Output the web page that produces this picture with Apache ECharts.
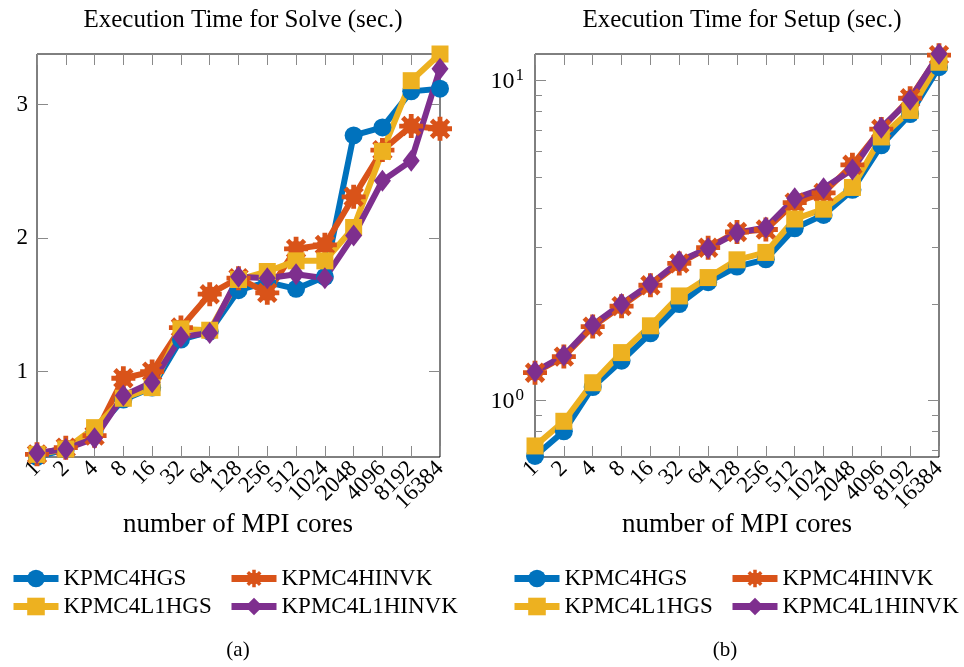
<!DOCTYPE html>
<html>
<head>
<meta charset="utf-8">
<script src="https://cdn.jsdelivr.net/npm/echarts@6/dist/echarts.min.js"></script>
<style>
html, body { margin: 0; padding: 0; background: #fff; }
#main { width: 964px; height: 667px; }
</style>
</head>
<body>
<div id="main"></div>
<script>
// x categories (number of MPI cores)
var cores = ['1', '2', '4', '8', '16', '32', '64', '128', '256', '512', '1024', '2048', '4096', '8192', '16384'];

// (a) solve time, sec.
var solveHGS     = [0.36, 0.42, 0.55, 0.79, 0.88, 1.24, 1.30, 1.61, 1.67, 1.62, 1.71, 2.77, 2.83, 3.10, 3.12];
var solveHINVK   = [0.38, 0.43, 0.52, 0.95, 1.00, 1.33, 1.58, 1.70, 1.59, 1.92, 1.95, 2.31, 2.66, 2.84, 2.82];
var solveL1HGS   = [0.38, 0.42, 0.58, 0.80, 0.88, 1.32, 1.31, 1.69, 1.75, 1.83, 1.83, 2.08, 2.65, 3.18, 3.38];
var solveL1HINVK = [0.39, 0.42, 0.50, 0.82, 0.92, 1.26, 1.29, 1.71, 1.70, 1.73, 1.70, 2.02, 2.43, 2.58, 3.27];

// (b) setup time, sec.
var setupHGS     = [0.67, 0.80, 1.10, 1.33, 1.62, 2.00, 2.34, 2.62, 2.76, 3.45, 3.80, 4.55, 6.27, 7.85, 11.0];
var setupHINVK   = [1.22, 1.37, 1.70, 1.97, 2.29, 2.68, 3.00, 3.36, 3.42, 4.15, 4.45, 5.45, 7.05, 8.80, 12.0];
var setupL1HGS   = [0.72, 0.86, 1.135, 1.41, 1.71, 2.12, 2.42, 2.75, 2.90, 3.69, 3.96, 4.63, 6.66, 8.06, 11.4];
var setupL1HINVK = [1.23, 1.38, 1.72, 2.00, 2.31, 2.72, 2.99, 3.34, 3.47, 4.28, 4.60, 5.27, 7.12, 8.71, 12.1];

var solveTicks = [1, 2, 3];
var setupTicks = [1, 10];
var setupMinorTicks = [0.7, 0.8, 0.9, 2, 3, 4, 5, 6, 7, 8, 9];

var FONT = 'Liberation Serif';
var TICK_COLOR = '#8a8a8a';

// cog-like asterisk marker: octagon core + 8 stubby arms
function asteriskPath() {
  var a = 0.2, d = '';
  var arm = [[-a, -1], [a, -1], [a, -a], [1, -a], [1, a], [a, a], [a, 1], [-a, 1], [-a, a], [-1, a], [-1, -a], [-a, -a]];
  [0, Math.PI / 4].forEach(function (ang) {
    var c = Math.cos(ang), s = Math.sin(ang);
    arm.forEach(function (p, i) {
      var x = p[0] * c - p[1] * s, y = p[0] * s + p[1] * c;
      d += (i === 0 ? 'M' : 'L') + x.toFixed(3) + ',' + y.toFixed(3) + ' ';
    });
    d += 'Z ';
  });
  for (var i = 0; i < 16; i++) {
    var t = Math.PI * 2 * i / 16;
    d += (i === 0 ? 'M' : 'L') + (0.68 * Math.cos(t)).toFixed(3) + ',' + (0.68 * Math.sin(t)).toFixed(3) + ' ';
  }
  d += 'Z';
  return 'path://' + d;
}

var styles = {
  KPMC4HGS:     { color: '#0072BD', symbol: 'circle', size: 18 },
  KPMC4HINVK:   { color: '#D95319', symbol: asteriskPath(), size: 24 },
  KPMC4L1HGS:   { color: '#EDB120', symbol: 'rect', size: 17 },
  KPMC4L1HINVK: { color: '#7E2F8E', symbol: 'diamond', size: [17, 22] }
};

function mkSeries(name, data, xi, yi) {
  var st = styles[name];
  return {
    name: name,
    type: 'line',
    xAxisIndex: xi,
    yAxisIndex: yi,
    data: data,
    symbol: st.symbol,
    symbolSize: st.size,
    showAllSymbol: true,
    clip: false,
    color: st.color,
    lineStyle: { width: 6, color: st.color },
    itemStyle: { color: st.color },
    emphasis: { disabled: true }
  };
}

function xAx(gi, pos, showLabel) {
  return {
    type: 'category',
    gridIndex: gi,
    position: pos,
    data: cores,
    boundaryGap: false,
    axisLine: { show: false },
    axisTick: { show: true, inside: true, length: 11, interval: 0, lineStyle: { color: TICK_COLOR, width: 1 } },
    axisLabel: showLabel ? { show: true, interval: 0, rotate: 45, margin: 8, color: '#000', fontFamily: FONT, fontSize: 23 } : { show: false },
    splitLine: { show: false }
  };
}

function yAx(gi, pos, type, min, max, ticks, len, labels) {
  var ax = {
    type: type,
    gridIndex: gi,
    position: pos,
    min: min,
    max: max,
    axisLine: { show: false },
    splitLine: { show: false },
    axisTick: { show: true, inside: true, length: len, customValues: ticks, lineStyle: { color: TICK_COLOR, width: 1 } },
    axisLabel: { show: false }
  };
  if (type === 'log') ax.logBase = 10;
  if (labels) ax.axisLabel = labels;
  return ax;
}

var gridA = { left: 37, top: 54, width: 403, height: 403 };
var gridB = { left: 535, top: 54, width: 404, height: 403 };

function legendItem(name, left, top) {
  return {
    data: [name],
    left: left,
    top: top,
    padding: 0,
    itemWidth: 45,
    itemHeight: 22,
    itemGap: 0,
    selectedMode: false,
    lineStyle: { width: 7 },
    textStyle: { fontFamily: FONT, fontSize: 23, color: '#000' }
  };
}

var option = {
  animation: false,
  backgroundColor: '#fff',
  title: [
    { text: 'Execution Time for Solve (sec.)', left: 238, top: 15, textAlign: 'center', textVerticalAlign: 'middle',
      textStyle: { fontFamily: FONT, fontSize: 25, fontWeight: 'normal', color: '#000' } },
    { text: 'Execution Time for Setup (sec.)', left: 737, top: 15, textAlign: 'center', textVerticalAlign: 'middle',
      textStyle: { fontFamily: FONT, fontSize: 25, fontWeight: 'normal', color: '#000' } }
  ],
  grid: [
    Object.assign({ show: true, borderColor: '#000', borderWidth: 1 }, gridA),
    Object.assign({ show: true, borderColor: '#000', borderWidth: 1 }, gridB)
  ],
  xAxis: [xAx(0, 'bottom', true), xAx(0, 'top', false), xAx(1, 'bottom', true), xAx(1, 'top', false)],
  yAxis: [
    yAx(0, 'left', 'value', 0.36, 3.38, solveTicks, 11,
      { show: true, customValues: solveTicks, margin: 9, color: '#000', fontFamily: FONT, fontSize: 23 }),
    yAx(0, 'right', 'value', 0.36, 3.38, solveTicks, 11),
    yAx(1, 'left', 'log', 0.665, 12.1, setupTicks, 11,
      { show: true, customValues: setupTicks, margin: 11,
        formatter: function (v) { return '{b|10}{s|' + Math.round(Math.log10(v)) + '}'; },
        rich: {
          b: { fontFamily: FONT, fontSize: 24, color: '#000', lineHeight: 26, verticalAlign: 'bottom' },
          s: { fontFamily: FONT, fontSize: 17, color: '#000', lineHeight: 26, verticalAlign: 'top', padding: [0, 0, 10, 1] }
        } }),
    yAx(1, 'right', 'log', 0.665, 12.1, setupTicks, 11),
    yAx(1, 'left', 'log', 0.665, 12.1, setupMinorTicks, 7),
    yAx(1, 'right', 'log', 0.665, 12.1, setupMinorTicks, 7)
  ],
  legend: [
    legendItem('KPMC4HGS', 10, 567),
    legendItem('KPMC4HINVK', 228, 567),
    legendItem('KPMC4L1HGS', 10, 595),
    legendItem('KPMC4L1HINVK', 228, 595),
    legendItem('KPMC4HGS', 511, 567),
    legendItem('KPMC4HINVK', 729, 567),
    legendItem('KPMC4L1HGS', 511, 595),
    legendItem('KPMC4L1HINVK', 729, 595)
  ],
  // axis names and captions placed by absolute position
  graphic: [
    { type: 'text', x: 238, y: 525, style: { text: 'number of MPI cores', fontFamily: FONT, fontSize: 27, fill: '#000', align: 'center', verticalAlign: 'middle' } },
    { type: 'text', x: 737, y: 525, style: { text: 'number of MPI cores', fontFamily: FONT, fontSize: 27, fill: '#000', align: 'center', verticalAlign: 'middle' } },
    { type: 'text', x: 238, y: 650, style: { text: '(a)', fontFamily: FONT, fontSize: 21, fill: '#000', align: 'center', verticalAlign: 'middle' } },
    { type: 'text', x: 725, y: 650, style: { text: '(b)', fontFamily: FONT, fontSize: 21, fill: '#000', align: 'center', verticalAlign: 'middle' } }
  ],
  series: [
    mkSeries('KPMC4HGS', solveHGS, 0, 0),
    mkSeries('KPMC4HINVK', solveHINVK, 0, 0),
    mkSeries('KPMC4L1HGS', solveL1HGS, 0, 0),
    mkSeries('KPMC4L1HINVK', solveL1HINVK, 0, 0),
    mkSeries('KPMC4HGS', setupHGS, 2, 2),
    mkSeries('KPMC4HINVK', setupHINVK, 2, 2),
    mkSeries('KPMC4L1HGS', setupL1HGS, 2, 2),
    mkSeries('KPMC4L1HINVK', setupL1HINVK, 2, 2)
  ]
};

var myChart = echarts.init(document.getElementById('main'));
myChart.setOption(option);
</script>
</body>
</html>
